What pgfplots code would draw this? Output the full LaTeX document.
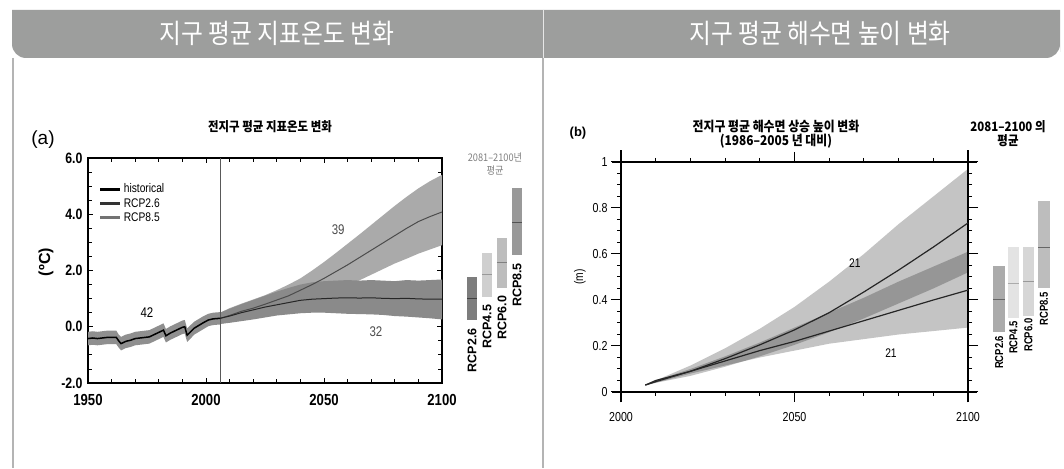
\documentclass[border=0pt]{standalone}
\usepackage{pgfplots}
\pgfplotsset{compat=1.18}
\usepackage{fontspec}
\setmainfont{Liberation Sans}
\newfontfamily\narrow[FakeStretch=0.82]{Liberation Sans}
\newfontfamily\kr{Noto Sans CJK KR}
\newfontfamily\krn[FakeStretch=0.88]{Noto Sans CJK KR}
\definecolor{hdr}{HTML}{9D9E9D}
\definecolor{bord}{HTML}{B4B4B4}
\definecolor{histband}{HTML}{8F8F8F}
\definecolor{band26}{HTML}{8A8A8A}
\definecolor{band85}{HTML}{AAAAAA}
\begin{document}
\begin{tikzpicture}
\path[use as bounding box] (0pt,0pt) rectangle (1064pt,468pt);
\fill[white] (0pt,0pt) rectangle (1064pt,468pt);
% header
\fill[hdr] (12pt,458pt) -- (12pt,430pt) [rounded corners=14pt] -- (12pt,410pt) -- (1060pt,410pt) -- (1060pt,430pt) [sharp corners] -- (1060pt,458pt) -- cycle;
\draw[white!75!hdr, line width=0.8pt] (543pt,458pt) -- (543pt,410pt);
\draw[bord, line width=1.2pt] (543pt,410pt) -- (543pt,0pt);
\draw[bord, line width=1.2pt] (13pt,410pt) -- (13pt,0pt);
\node[text=white, font=\krn\fontsize{27}{27}\selectfont] at (277pt,435pt) {지구 평균 지표온도 변화};
\node[text=white, font=\krn\fontsize{27}{27}\selectfont] at (820pt,435pt) {지구 평균 해수면 높이 변화};

% ---------------- panel (a) ----------------
\node[font=\fontsize{19}{19}\selectfont] at (43pt,328pt) {(a)};
\node[font=\krn\bfseries\fontsize{13}{13}\selectfont] at (270pt,341pt) {전지구 평균 지표온도 변화};
\node[rotate=90, font=\bfseries\fontsize{16}{16}\selectfont] at (46pt,206pt) {(ºC)};
\node[text=gray, font=\krn\fontsize{10.5}{10.5}\selectfont, align=center, inner sep=0pt] at (495pt,304pt) {2081–2100년\\[2pt]평균};

\begin{axis}[
  at={(88pt,85pt)}, anchor=south west, scale only axis, width=354pt, height=225pt,
  xmin=1950, xmax=2100, ymin=-2, ymax=6, clip=false,
  xtick={1950,2000,2050,2100}, minor x tick num=4,
  ytick={-2,0,2,4,6}, minor y tick num=3,
  tick align=inside, major tick length=5pt, minor tick length=4pt,
  axis line style={line width=1.3pt},
  every tick/.style={black, line width=0.8pt},
  /pgf/number format/1000 sep={},
  /pgf/number format/assume math mode=true,
  xticklabel style={font=\narrow\bfseries\fontsize{16}{16}\selectfont, yshift=-8pt},
  yticklabel style={font=\narrow\bfseries\fontsize{15}{15}\selectfont, xshift=-2pt,
     /pgf/number format/fixed, /pgf/number format/fixed zerofill, /pgf/number format/precision=1},
  legend style={at={(0.03,0.895)}, anchor=north west, draw=none, fill=none,
     font=\narrow\fontsize{12.5}{12.5}\selectfont, row sep=0pt, inner sep=0pt},
  legend cell align=left,
  legend image code/.code={\draw[#1, line width=3pt] (0pt,0pt) -- (20pt,0pt);},
]
% RCP8.5 band
\addplot[fill=band85, draw=none, forget plot] coordinates {
(2006,0.50) (2010,0.66) (2015,0.82) (2020,0.97) (2025,1.12) (2030,1.30) (2035,1.50) (2040,1.72) (2045,2.00) (2050,2.30) (2055,2.62) (2060,2.95) (2065,3.28) (2070,3.62) (2075,3.96) (2080,4.30) (2085,4.62) (2090,4.92) (2095,5.18) (2100,5.40)
(2100,2.90) (2095,2.75) (2090,2.60) (2085,2.42) (2080,2.25) (2075,2.05) (2070,1.85) (2065,1.65) (2060,1.45) (2055,1.28) (2050,1.10) (2045,0.98) (2040,0.85) (2035,0.72) (2030,0.60) (2025,0.48) (2020,0.36) (2015,0.25) (2010,0.16) (2006,0.10)} -- cycle;
% RCP2.6 band
\addplot[fill=band26, draw=none, forget plot] coordinates {
(2006,0.50) (2010,0.64) (2015,0.80) (2020,0.95) (2025,1.10) (2030,1.25) (2035,1.38) (2040,1.50) (2045,1.58) (2050,1.62) (2055,1.64) (2060,1.66) (2065,1.64) (2070,1.66) (2075,1.64) (2080,1.62) (2085,1.66) (2090,1.64) (2095,1.66) (2100,1.68)
(2100,0.26) (2095,0.30) (2090,0.33) (2085,0.36) (2080,0.38) (2075,0.42) (2070,0.44) (2065,0.45) (2060,0.46) (2055,0.48) (2050,0.50) (2045,0.50) (2040,0.48) (2035,0.44) (2030,0.40) (2025,0.33) (2020,0.26) (2015,0.20) (2010,0.14) (2006,0.10)} -- cycle;
% historical band
\addplot[fill=histband, draw=none, forget plot] coordinates {
(1950,-0.18) (1952,-0.16) (1954,-0.18) (1956,-0.16) (1958,-0.14) (1960,-0.14) (1962,-0.14) (1963,-0.28) (1964,-0.36) (1966,-0.28) (1968,-0.24) (1970,-0.18) (1972,-0.16) (1974,-0.14) (1976,-0.12) (1978,-0.04) (1980,0.04) (1982,0.12) (1983,-0.08) (1985,0.02) (1988,0.14) (1990,0.22) (1991,0.24) (1992,-0.06) (1993,0.02) (1995,0.18) (1997,0.28) (1999,0.38) (2001,0.46) (2003,0.50) (2006,0.52)
(2006,0.08) (2003,0.06) (2001,0.02) (1999,-0.08) (1997,-0.18) (1995,-0.28) (1993,-0.46) (1992,-0.54) (1991,-0.24) (1990,-0.26) (1988,-0.34) (1985,-0.46) (1983,-0.56) (1982,-0.36) (1980,-0.44) (1978,-0.52) (1976,-0.60) (1974,-0.62) (1972,-0.64) (1970,-0.66) (1968,-0.72) (1966,-0.76) (1964,-0.84) (1963,-0.74) (1962,-0.62) (1960,-0.62) (1958,-0.62) (1956,-0.64) (1954,-0.66) (1952,-0.64) (1950,-0.66)} -- cycle;
% vertical line
\addplot[gray!70!black, line width=1.2pt, forget plot] coordinates {(2006,-2) (2006,6)};
% means
\addplot[black!70, line width=1pt, forget plot] coordinates {
(2006,0.30) (2010,0.40) (2015,0.55) (2020,0.66) (2025,0.80) (2030,0.95) (2035,1.10) (2040,1.30) (2045,1.50) (2050,1.72) (2055,1.96) (2060,2.20) (2065,2.46) (2070,2.72) (2075,2.98) (2080,3.24) (2085,3.50) (2090,3.74) (2095,3.92) (2100,4.08)};
\addplot[black!85, line width=1pt, forget plot] coordinates {
(2006,0.30) (2010,0.38) (2015,0.50) (2020,0.60) (2025,0.70) (2030,0.78) (2035,0.86) (2040,0.94) (2045,0.98) (2050,1.00) (2055,1.02) (2060,1.03) (2065,1.02) (2070,1.03) (2075,1.01) (2080,1.00) (2085,1.01) (2090,0.99) (2095,0.98) (2100,0.98)};
\addplot[black, line width=1.5pt, forget plot] coordinates {
(1950,-0.42) (1952,-0.40) (1954,-0.42) (1956,-0.40) (1958,-0.38) (1960,-0.38) (1962,-0.38) (1963,-0.50) (1964,-0.60) (1966,-0.52) (1968,-0.48) (1970,-0.42) (1972,-0.40) (1974,-0.38) (1976,-0.36) (1978,-0.28) (1980,-0.20) (1982,-0.12) (1983,-0.32) (1985,-0.22) (1988,-0.10) (1990,-0.02) (1991,0.00) (1992,-0.30) (1993,-0.22) (1995,-0.05) (1997,0.05) (1999,0.15) (2001,0.24) (2003,0.28) (2006,0.30)};
\addlegendimage{black}
\addlegendentry{historical}
\addlegendimage{black!80}
\addlegendentry{RCP2.6}
\addlegendimage{black!55}
\addlegendentry{RCP8.5}
% labels
\node[font=\narrow\fontsize{14}{14}\selectfont] at (axis cs:1975,0.5) {42};
\node[font=\narrow\fontsize{14}{14}\selectfont, text=black!70] at (axis cs:2056,3.45) {39};
\node[font=\narrow\fontsize{14}{14}\selectfont, text=black!70] at (axis cs:2072,-0.18) {32};
% 2081-2100 bars
\addplot[fill=black!51, draw=none, forget plot] coordinates {(2110.6,0.24) (2114.8,0.24) (2114.8,1.77) (2110.6,1.77)} -- cycle;
\addplot[black!75, line width=1pt, forget plot] coordinates {(2110.6,0.99) (2114.8,0.99)};
\addplot[fill=black!19, draw=none, forget plot] coordinates {(2117.0,1.06) (2121.2,1.06) (2121.2,2.62) (2117.0,2.62)} -- cycle;
\addplot[black!40, line width=1pt, forget plot] coordinates {(2117.0,1.84) (2121.2,1.84)};
\addplot[fill=black!26, draw=none, forget plot] coordinates {(2123.3,1.38) (2127.5,1.38) (2127.5,3.16) (2123.3,3.16)} -- cycle;
\addplot[black!50, line width=1pt, forget plot] coordinates {(2123.3,2.27) (2127.5,2.27)};
\addplot[fill=black!40, draw=none, forget plot] coordinates {(2129.7,2.55) (2133.9,2.55) (2133.9,4.93) (2129.7,4.93)} -- cycle;
\addplot[black!68, line width=1pt, forget plot] coordinates {(2129.7,3.72) (2133.9,3.72)};
\node[rotate=90, anchor=east, font=\bfseries\fontsize{12.5}{12.5}\selectfont, inner sep=0pt] at (axis cs:2112.7,-0.05) {RCP2.6};
\node[rotate=90, anchor=east, font=\bfseries\fontsize{12.5}{12.5}\selectfont, inner sep=0pt] at (axis cs:2119.1,0.78) {RCP4.5};
\node[rotate=90, anchor=east, font=\bfseries\fontsize{12.5}{12.5}\selectfont, inner sep=0pt] at (axis cs:2125.4,1.10) {RCP6.0};
\node[rotate=90, anchor=east, font=\bfseries\fontsize{12.5}{12.5}\selectfont, inner sep=0pt] at (axis cs:2131.8,2.27) {RCP8.5};
\end{axis}

% ---------------- panel (b) ----------------
\node[font=\bfseries\fontsize{13}{13}\selectfont] at (578pt,335pt) {(b)};
\node[font=\krn\bfseries\fontsize{13.5}{13.5}\selectfont, align=center, inner sep=0pt] at (776pt,334pt) {전지구 평균 해수면 상승 높이 변화\\[1pt](1986–2005 년 대비)};
\node[font=\krn\bfseries\fontsize{13}{13}\selectfont, align=center, inner sep=0pt] at (1008pt,334pt) {2081–2100 의\\[1pt]평균};
\node[rotate=90, font=\narrow\fontsize{12.5}{12.5}\selectfont] at (580pt,191pt) {(m)};

\begin{axis}[
  at={(621pt,76pt)}, anchor=south west, scale only axis, width=347pt, height=230pt,
  xmin=2000, xmax=2100, ymin=0, ymax=1, clip=false,
  xtick={2000,2050,2100}, minor x tick num=4,
  ytick={0,0.2,0.4,0.6,0.8,1}, minor y tick num=3,
  tick align=outside, major tick length=10pt, minor tick length=4pt,
  axis line style={line width=1.6pt},
  every tick/.style={black, line width=1pt},
  /pgf/number format/1000 sep={},
  /pgf/number format/assume math mode=true,
  xticklabel style={font=\narrow\fontsize{13}{13}\selectfont, yshift=-7pt},
  yticklabel style={font=\narrow\fontsize{13}{13}\selectfont},
]
\draw[line width=1.6pt] (rel axis cs:0,-0.045) -- (rel axis cs:0,1.05);
\draw[line width=1.6pt] (rel axis cs:1,-0.045) -- (rel axis cs:1,1.05);
\draw[line width=1.6pt] (rel axis cs:-0.025,0) -- (rel axis cs:1.027,0);
\draw[line width=1.6pt] (rel axis cs:-0.025,1) -- (rel axis cs:1.027,1);
% RCP8.5 band
\addplot[fill=black, fill opacity=0.23, draw=none] coordinates {
(2007,0.03) (2010,0.05) (2020,0.115) (2030,0.19) (2040,0.275) (2050,0.37) (2060,0.48) (2070,0.60) (2080,0.73) (2090,0.85) (2100,0.97)
(2100,0.52) (2090,0.45) (2080,0.385) (2070,0.32) (2060,0.26) (2050,0.205) (2040,0.155) (2030,0.11) (2020,0.07) (2010,0.04) (2007,0.03)} -- cycle;
% RCP2.6 band
\addplot[fill=black, fill opacity=0.23, draw=none] coordinates {
(2007,0.03) (2010,0.05) (2020,0.10) (2030,0.155) (2040,0.215) (2050,0.28) (2060,0.345) (2070,0.41) (2080,0.48) (2090,0.545) (2100,0.61)
(2100,0.28) (2090,0.265) (2080,0.25) (2070,0.23) (2060,0.21) (2050,0.18) (2040,0.15) (2030,0.115) (2020,0.08) (2010,0.04) (2007,0.03)} -- cycle;
% means
\addplot[black!85, line width=1.2pt] coordinates {
(2007,0.03) (2010,0.05) (2020,0.09) (2030,0.145) (2040,0.205) (2050,0.27) (2060,0.345) (2070,0.435) (2080,0.53) (2090,0.63) (2100,0.735)};
\addplot[black!85, line width=1.2pt] coordinates {
(2007,0.03) (2010,0.045) (2020,0.09) (2030,0.135) (2040,0.18) (2050,0.22) (2060,0.265) (2070,0.31) (2080,0.355) (2090,0.40) (2100,0.443)};
\node[font=\narrow\fontsize{12.5}{12.5}\selectfont] at (axis cs:2067.4,0.56) {21};
\node[font=\narrow\fontsize{12.5}{12.5}\selectfont] at (axis cs:2077.8,0.17) {21};
% bars
\addplot[fill=black!33, draw=none] coordinates {(2107.2,0.26) (2110.7,0.26) (2110.7,0.548) (2107.2,0.548)} -- cycle;
\addplot[black!60, line width=1pt] coordinates {(2107.2,0.404) (2110.7,0.404)};
\addplot[fill=black!11, draw=none] coordinates {(2111.5,0.32) (2114.7,0.32) (2114.7,0.63) (2111.5,0.63)} -- cycle;
\addplot[black!33, line width=1pt] coordinates {(2111.5,0.47) (2114.7,0.47)};
\addplot[fill=black!16, draw=none] coordinates {(2115.8,0.33) (2119.0,0.33) (2119.0,0.63) (2115.8,0.63)} -- cycle;
\addplot[black!40, line width=1pt] coordinates {(2115.8,0.48) (2119.0,0.48)};
\addplot[fill=black!26, draw=none] coordinates {(2120.2,0.45) (2123.6,0.45) (2123.6,0.83) (2120.2,0.83)} -- cycle;
\addplot[black!60, line width=1pt] coordinates {(2120.2,0.63) (2123.6,0.63)};
\node[rotate=90, anchor=east, font=\narrow\bfseries\fontsize{11.5}{11.5}\selectfont, inner sep=0pt] at (axis cs:2109.0,0.245) {RCP2.6};
\node[rotate=90, anchor=east, font=\narrow\bfseries\fontsize{11.5}{11.5}\selectfont, inner sep=0pt] at (axis cs:2113.1,0.31) {RCP4.5};
\node[rotate=90, anchor=east, font=\narrow\bfseries\fontsize{11.5}{11.5}\selectfont, inner sep=0pt] at (axis cs:2117.4,0.32) {RCP6.0};
\node[rotate=90, anchor=east, font=\narrow\bfseries\fontsize{11.5}{11.5}\selectfont, inner sep=0pt] at (axis cs:2121.9,0.435) {RCP8.5};
\end{axis}
\end{tikzpicture}
\end{document}
